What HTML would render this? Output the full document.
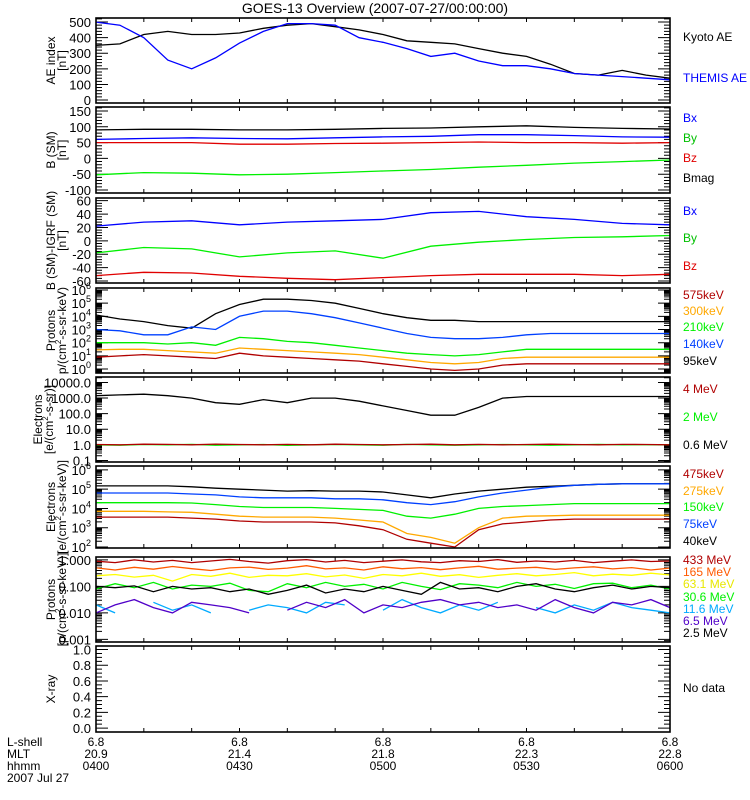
<!DOCTYPE html>
<html><head><meta charset="utf-8"><style>
html,body{margin:0;padding:0;background:#fff;}
svg{display:block;font-family:"Liberation Sans",sans-serif;}
</style></head><body>
<svg id="chart" width="750" height="800" viewBox="0 0 750 800" xmlns="http://www.w3.org/2000/svg">
<text x="375" y="13" text-anchor="middle" font-size="14">GOES-13 Overview (2007-07-27/00:00:00)</text>
<g font-size="12">
<text x="7" y="746">L-shell</text><text x="7" y="758">MLT</text><text x="7" y="770">hhmm</text><text x="7" y="782">2007 Jul 27</text>
</g>
<g id="bottomcols" font-size="12" text-anchor="middle"></g>
<text x="683" y="692" font-size="12">No data</text>
</svg>
<script>
// ---- data (time in minutes from 04:00) ----
const timeLabels=["0400","0430","0500","0530","0600"];
const mltLabels=["20.9","21.4","21.8","22.3","22.8"];
const lshellLabels=["6.8","6.8","6.8","6.8","6.8"];
// 5-min samples
const kyotoAE=[350,360,420,440,420,420,430,460,480,490,470,450,420,380,370,360,330,300,280,230,170,160,190,160,140];
const themisAE=[500,480,400,256,200,270,365,440,490,490,480,400,370,330,280,300,250,220,220,200,170,160,150,140,130];
// 10-min samples
const bMag=[90,92,92,90,90,92,95,96,100,103,98,95,93];
const bxSM=[60,63,65,63,62,65,68,70,75,75,72,68,67];
const bySM=[-52,-45,-47,-52,-50,-45,-40,-35,-28,-22,-15,-10,-5];
const bzSM=[50,50,50,45,45,47,48,50,52,50,50,48,50];
const bxDiff=[22,28,30,24,28,30,32,42,44,36,32,26,24];
const byDiff=[-18,-10,-12,-24,-18,-15,-26,-8,-2,2,5,6,8];
const bzDiff=[-52,-47,-48,-53,-56,-58,-55,-52,-50,-50,-50,-52,-50];
// protons log10 flux, 5-min
const p95Log=[4.1,3.8,3.6,3.3,3.1,4.2,4.9,5.3,5.3,5.2,5.0,4.6,4.2,3.9,3.7,3.7,3.6,3.6,3.6,3.6,3.6,3.6,3.6,3.6,3.6];
const p140Log=[3.0,2.9,2.6,2.6,3.2,3.0,4.0,4.4,4.4,4.2,3.9,3.5,3.1,2.7,2.4,2.3,2.3,2.4,2.6,2.7,2.7,2.7,2.7,2.7,2.7];
const p210Log=[2.0,2.0,2.0,1.9,2.0,1.8,2.4,2.3,2.1,2.0,1.8,1.6,1.4,1.2,1.1,1.0,1.1,1.3,1.5,1.5,1.5,1.5,1.5,1.5,1.5];
const p300Log=[1.45,1.5,1.5,1.4,1.3,1.2,1.6,1.5,1.4,1.3,1.2,1.1,0.9,0.7,0.5,0.4,0.5,0.8,0.9,0.9,0.9,0.9,0.9,0.9,0.9];
const p575Log=[0.9,1.0,1.1,1.0,0.9,0.8,1.2,1.0,0.9,0.8,0.7,0.6,0.4,0.2,0.0,-0.1,0.0,0.3,0.4,0.4,0.4,0.4,0.4,0.4,0.4];
// electrons integral log10, 5-min
const e06Log=[3.15,3.2,3.25,3.15,3.0,2.7,2.6,2.9,2.7,3.0,3.0,2.8,2.5,2.2,1.9,1.9,2.4,3.0,3.1,3.1,3.1,3.1,3.1,3.1,3.1];
const e2Log=[0,-0.02,0.02,0.0,0.03,-0.02,0.0,0.02,-0.03,0.0,0.02,0.0,-0.02,0.03,0.0,-0.02,0.0,0.02,0.0,-0.02,0.0,0.03,0.0,0.01,0.0];
const e4Log=[0.02,0.0,0.04,0.03,0.0,0.05,0.02,0.0,0.03,0.0,0.04,0.02,0.0,0.02,0.04,0.0,0.03,0.0,0.02,0.04,0.02,0.0,0.03,0.02,0.0];
// electrons differential log10, 5-min
const e40Log=[5.17,5.17,5.17,5.17,5.12,5.05,5.0,4.95,4.9,4.92,4.9,4.9,4.85,4.7,4.55,4.75,4.9,5.0,5.1,5.15,5.2,5.25,5.28,5.28,5.28];
const e75Log=[4.8,4.8,4.8,4.8,4.75,4.7,4.6,4.55,4.55,4.55,4.5,4.5,4.45,4.3,4.2,4.35,4.6,4.8,4.95,5.1,5.2,5.25,5.28,5.28,5.28];
const e150Log=[4.3,4.3,4.3,4.3,4.28,4.2,4.1,4.05,4.05,4.05,4.0,3.95,3.9,3.6,3.5,3.7,4.0,4.1,4.15,4.2,4.25,4.25,4.25,4.25,4.25];
const e275Log=[3.85,3.85,3.85,3.82,3.8,3.7,3.6,3.55,3.55,3.55,3.5,3.4,3.3,2.7,2.5,2.2,3.0,3.5,3.6,3.62,3.65,3.65,3.65,3.65,3.65];
const e475Log=[3.55,3.55,3.55,3.55,3.5,3.45,3.35,3.3,3.3,3.3,3.25,3.1,2.9,2.4,2.2,2.0,2.9,3.2,3.3,3.4,3.45,3.45,3.45,3.45,3.45];
// high-energy protons log10, 4-min
const hp433=[-0.05,-0.1,0.0,-0.08,-0.02,-0.1,-0.04,0.02,-0.06,-0.12,-0.03,0.01,-0.08,-0.02,-0.1,-0.05,0.0,-0.07,-0.1,-0.03,-0.06,0.01,-0.09,-0.04,-0.08,-0.02,-0.1,-0.05,0.0,-0.06,-0.04];
const hp165=[-0.3,-0.38,-0.28,-0.35,-0.25,-0.33,-0.4,-0.3,-0.27,-0.36,-0.31,-0.22,-0.34,-0.3,-0.38,-0.26,-0.33,-0.29,-0.37,-0.3,-0.24,-0.35,-0.31,-0.28,-0.36,-0.3,-0.26,-0.34,-0.29,-0.38,-0.31];
const hp63=[-0.6,-0.55,-0.65,-0.58,-0.8,-0.55,-0.62,-0.5,-0.66,-0.58,-0.6,-0.52,-0.64,-0.57,-0.7,-0.55,-0.6,-0.5,-0.62,-0.56,-0.66,-0.58,-0.52,-0.6,-0.55,-0.48,-0.6,-0.54,-0.58,-0.5,-0.57];
const hp30=[-1.1,-0.9,-1.05,-0.85,-1.1,-0.95,-1.0,-0.88,-1.15,-1.2,-0.9,-1.05,-0.85,-1.0,-0.92,-1.1,-0.85,-1.0,-1.12,-0.9,-0.95,-1.05,-0.85,-1.0,-0.92,-1.08,-0.9,-0.88,-1.05,-0.95,-1.1];
const hp2=[-1.0,-1.05,-0.98,-1.2,-1.0,-1.1,-1.05,-1.2,-1.1,-1.3,-1.15,-0.95,-1.25,-1.1,-1.2,-1.0,-1.15,-1.3,-0.85,-1.1,-1.05,-1.2,-1.0,-0.9,-1.1,-1.2,-1.05,-0.95,-1.1,-1.0,-1.05];
const hp6=[-2.0,-1.7,-1.5,-1.8,-2.0,-1.6,-1.7,-1.8,-2.0,null,-1.9,-1.6,-1.8,-1.5,-2.0,-1.7,-1.8,-1.6,-1.5,-1.7,-1.6,-1.8,-1.7,-1.9,-1.5,-1.8,-2.0,-1.6,-1.7,-1.5,-1.8];
const hp11=[-1.7,-2.0,null,-1.6,-1.9,-1.7,-2.0,null,-1.9,-1.7,-1.8,-2.0,-1.6,-1.7,null,-1.9,-1.5,-1.8,-2.0,-1.7,-1.9,-1.6,null,-1.8,-2.0,-1.7,-1.9,-1.6,-1.8,-1.9,-2.0];

const NS="http://www.w3.org/2000/svg";
const svg=document.getElementById('chart');
const X0=96,X1=670,TMAX=120;
function xs(t){return X0+t/TMAX*(X1-X0);}
function mk(tag,attrs,parent){const e=document.createElementNS(NS,tag);for(const k in attrs)e.setAttribute(k,attrs[k]);(parent||svg).appendChild(e);return e;}

function makePanel(p){
  const g=mk('g',{});
  
  
  const ys=v=>p.bottom-(v-p.ymin)/(p.ymax-p.ymin)*(p.bottom-p.top);
  p.ys=ys;
  let tp='';
  const addY=(v,len)=>{const y=ys(v);if(y<p.top-0.5||y>p.bottom+0.5)return;tp+=`M${X0},${y}h${len}M${X1},${y}h${-len}`;};
  if(p.log){
    for(let d=Math.floor(p.ymin);d<=Math.ceil(p.ymax);d++){
      addY(d,12);
      for(let k=2;k<10;k++)addY(d+Math.log10(k),6);
    }
  }else{
    for(let v=Math.ceil(p.ymin/p.minor)*p.minor;v<=p.ymax;v+=p.minor){
      const isMaj=Math.abs(v/p.major-Math.round(v/p.major))<1e-6;
      addY(v,isMaj?12:6);
    }
  }
  for(let t=10;t<TMAX;t+=10){const x=xs(t);tp+=`M${x},${p.top}v4M${x},${p.bottom}v-4`;}
  const tk=mk('path',{d:tp,stroke:'#000','stroke-width':1,fill:'none'},g);
  
  
  p.labels.forEach(l=>{
    const tx=mk('text',{x:91,y:ys(l.v)+5,'text-anchor':'end','font-size':13},g);
    if(l.exp!==undefined){
      tx.textContent='10';
      const s=mk('tspan',{dy:-6,'font-size':9},tx);s.textContent=l.exp;
    } else tx.textContent=l.t;
    
    
  });
  const cy=(p.top+p.bottom)/2;
  const tt=mk('text',{transform:`translate(${p.tx||55},${cy}) rotate(-90)`,'text-anchor':'middle','font-size':12},g);
  tt.textContent=p.title1;
  
  
  if(p.title2){
    const t2=mk('text',{transform:`translate(${(p.tx||55)+11},${cy}) rotate(-90)`,'text-anchor':'middle','font-size':12},g);
    t2.innerHTML=p.title2;
    
    
  }
  const cp=mk('clipPath',{id:'cp'+p.name},g);
  mk('rect',{x:X0,y:p.top,width:X1-X0,height:p.bottom-p.top},cp);
  (p.series||[]).forEach(s=>{
    const n=s.vals.length;let d='';let pen=false;
    s.vals.forEach((v,i)=>{
      if(v===null){pen=false;return;}
      const x=xs(i*TMAX/(n-1)),y=ys(v);
      d+=(pen?'L':'M')+x.toFixed(1)+','+y.toFixed(1);pen=true;
    });
    const pl=mk('path',{d:d,stroke:s.c,'stroke-width':1.3,fill:'none','clip-path':`url(#cp${p.name})`},g);
    
    
  });
  (p.legend||[]).forEach(l=>{
    const tx=mk('text',{x:683,y:l.y,fill:l.c,'font-size':12},g);
    tx.textContent=l.t;
    
    
  });
  const fr=mk('rect',{x:X0,y:p.top,width:X1-X0,height:p.bottom-p.top,fill:'none',stroke:'#000','stroke-width':1.6},g);
  
  
}
const RED='#e00000',DRED='#b00000',GRN='#00f000',BLU='#0000ff',BLU2='#0040ff',ORG='#ffa800';
const lin=(vals)=>vals.map(v=>({v:v,t:String(v)}));
makePanel({name:'ae-index-panel',top:18,bottom:103,ymin:-19,ymax:526,major:100,minor:20,
 labels:lin([0,100,200,300,400,500]),title1:'AE index',title2:'[nT]',
 series:[{n:'kyoto-ae-line',c:'#000',vals:kyotoAE},{n:'themis-ae-line',c:BLU,vals:themisAE}],
 legend:[{t:'Kyoto AE',y:41,c:'#000'},{t:'THEMIS AE',y:82,c:BLU}]});
makePanel({name:'b-sm-panel',top:107,bottom:193,ymin:-109.5,ymax:162.6,major:50,minor:10,
 labels:lin([-100,-50,0,50,100,150]),title1:'B (SM)',title2:'[nT]',
 series:[{n:'bmag-line',c:'#000',vals:bMag},{n:'bx-line',c:BLU,vals:bxSM},{n:'bz-line',c:RED,vals:bzSM},{n:'by-line',c:GRN,vals:bySM}],
 legend:[{t:'Bx',y:122,c:BLU},{t:'By',y:142,c:'#00c000'},{t:'Bz',y:162,c:RED},{t:'Bmag',y:182,c:'#000'}]});
makePanel({name:'b-igrf-panel',top:198,bottom:283,ymin:-63,ymax:64,major:20,minor:4,
 labels:lin([-60,-40,-20,0,20,40,60]),title1:'B (SM)-IGRF (SM)',title2:'[nT]',
 series:[{n:'bx-igrf-line',c:BLU,vals:bxDiff},{n:'by-igrf-line',c:GRN,vals:byDiff},{n:'bz-igrf-line',c:RED,vals:bzDiff}],
 legend:[{t:'Bx',y:215,c:BLU},{t:'By',y:242,c:'#00c000'},{t:'Bz',y:270,c:RED}]});
makePanel({name:'proton-flux-panel',top:288,bottom:373,ymin:-0.3,ymax:6.15,log:true,
 labels:[0,1,2,3,4,5,6].map(e=>({v:e,exp:String(e)})),title1:'Protons',title2:'p/(cm<tspan dy="-5" font-size="8">2</tspan><tspan dy="5">-s-sr-keV)</tspan>',
 series:[{n:'proton-95kev-line',c:'#000',vals:p95Log},{n:'proton-140kev-line',c:BLU2,vals:p140Log},{n:'proton-210kev-line',c:GRN,vals:p210Log},{n:'proton-300kev-line',c:ORG,vals:p300Log},{n:'proton-575kev-line',c:DRED,vals:p575Log}],
 legend:[{t:'575keV',y:299,c:DRED},{t:'300keV',y:315,c:ORG},{t:'210keV',y:331,c:GRN},{t:'140keV',y:348,c:BLU2},{t:'95keV',y:365,c:'#000'}]});
makePanel({name:'electron-integral-panel',top:377,bottom:462,ymin:-1.1,ymax:4.35,log:true,
 labels:[{v:4,t:'10000.0'},{v:3,t:'1000.0'},{v:2,t:'100.0'},{v:1,t:'10.0'},{v:0,t:'1.0'},{v:-1,t:'0.1'}],tx:42,title1:'Electrons',title2:'[e/(cm<tspan dy="-5" font-size="8">2</tspan><tspan dy="5">-s-sr)]</tspan>',
 series:[{n:'electron-0.6mev-line',c:'#000',vals:e06Log},{n:'electron-2mev-line',c:GRN,vals:e2Log},{n:'electron-4mev-line',c:DRED,vals:e4Log}],
 legend:[{t:'4 MeV',y:393,c:DRED},{t:'2 MeV',y:421,c:GRN},{t:'0.6 MeV',y:449,c:'#000'}]});
makePanel({name:'electron-diff-panel',top:466,bottom:548,ymin:1.95,ymax:6.2,log:true,
 labels:[2,3,4,5,6].map(e=>({v:e,exp:String(e)})),title1:'Electrons',title2:'[e/(cm<tspan dy="-5" font-size="8">2</tspan><tspan dy="5">-s-sr-keV)]</tspan>',
 series:[{n:'electron-40kev-line',c:'#000',vals:e40Log},{n:'electron-75kev-line',c:BLU2,vals:e75Log},{n:'electron-150kev-line',c:GRN,vals:e150Log},{n:'electron-275kev-line',c:ORG,vals:e275Log},{n:'electron-475kev-line',c:DRED,vals:e475Log}],
 legend:[{t:'475keV',y:478,c:DRED},{t:'275keV',y:495,c:ORG},{t:'150keV',y:511,c:GRN},{t:'75keV',y:528,c:BLU2},{t:'40keV',y:545,c:'#000'}]});
makePanel({name:'hep-proton-panel',top:557,bottom:642,ymin:-3.1,ymax:0.11,log:true,
 labels:[{v:0,t:'1.000'},{v:-1,t:'0.100'},{v:-2,t:'0.010'},{v:-3,t:'0.001'}],title1:'Protons',title2:'[p/(cm<tspan dy="-5" font-size="8">2</tspan><tspan dy="5">-s-sr-keV)]</tspan>',
 series:[{n:'hep-433mev-line',c:DRED,vals:hp433},{n:'hep-165mev-line',c:'#ff5a00',vals:hp165},{n:'hep-63mev-line',c:'#ffff00',vals:hp63},{n:'hep-30mev-line',c:GRN,vals:hp30},{n:'hep-2.5mev-line',c:'#000',vals:hp2},{n:'hep-11.6mev-line',c:'#00aaff',vals:hp11},{n:'hep-6.5mev-line',c:'#5000c8',vals:hp6}],
 legend:[{t:'433 MeV',y:564,c:DRED},{t:'165 MeV',y:576,c:'#ff5a00'},{t:'63.1 MeV',y:588,c:'#e8e800'},{t:'30.6 MeV',y:601,c:GRN},{t:'11.6 MeV',y:613,c:'#00aaff'},{t:'6.5 MeV',y:625,c:'#5000c8'},{t:'2.5 MeV',y:637,c:'#000'}]});
makePanel({name:'xray-panel',top:646,bottom:732,ymin:-0.05,ymax:1.045,major:0.2,minor:0.05,
 labels:[0,0.2,0.4,0.6,0.8,1.0].map(v=>({v:v,t:v.toFixed(1)})),title1:'X-ray',series:[]});
const bc=document.getElementById('bottomcols');
timeLabels.forEach((t,i)=>{
  const x=xs(i*30);
  [[lshellLabels[i],746],[mltLabels[i],758],[t,770]].forEach(([s,y])=>{
    const e=mk('text',{x:x,y:y},bc);e.textContent=s;
    
    
  });
});
</script>
</body></html>
